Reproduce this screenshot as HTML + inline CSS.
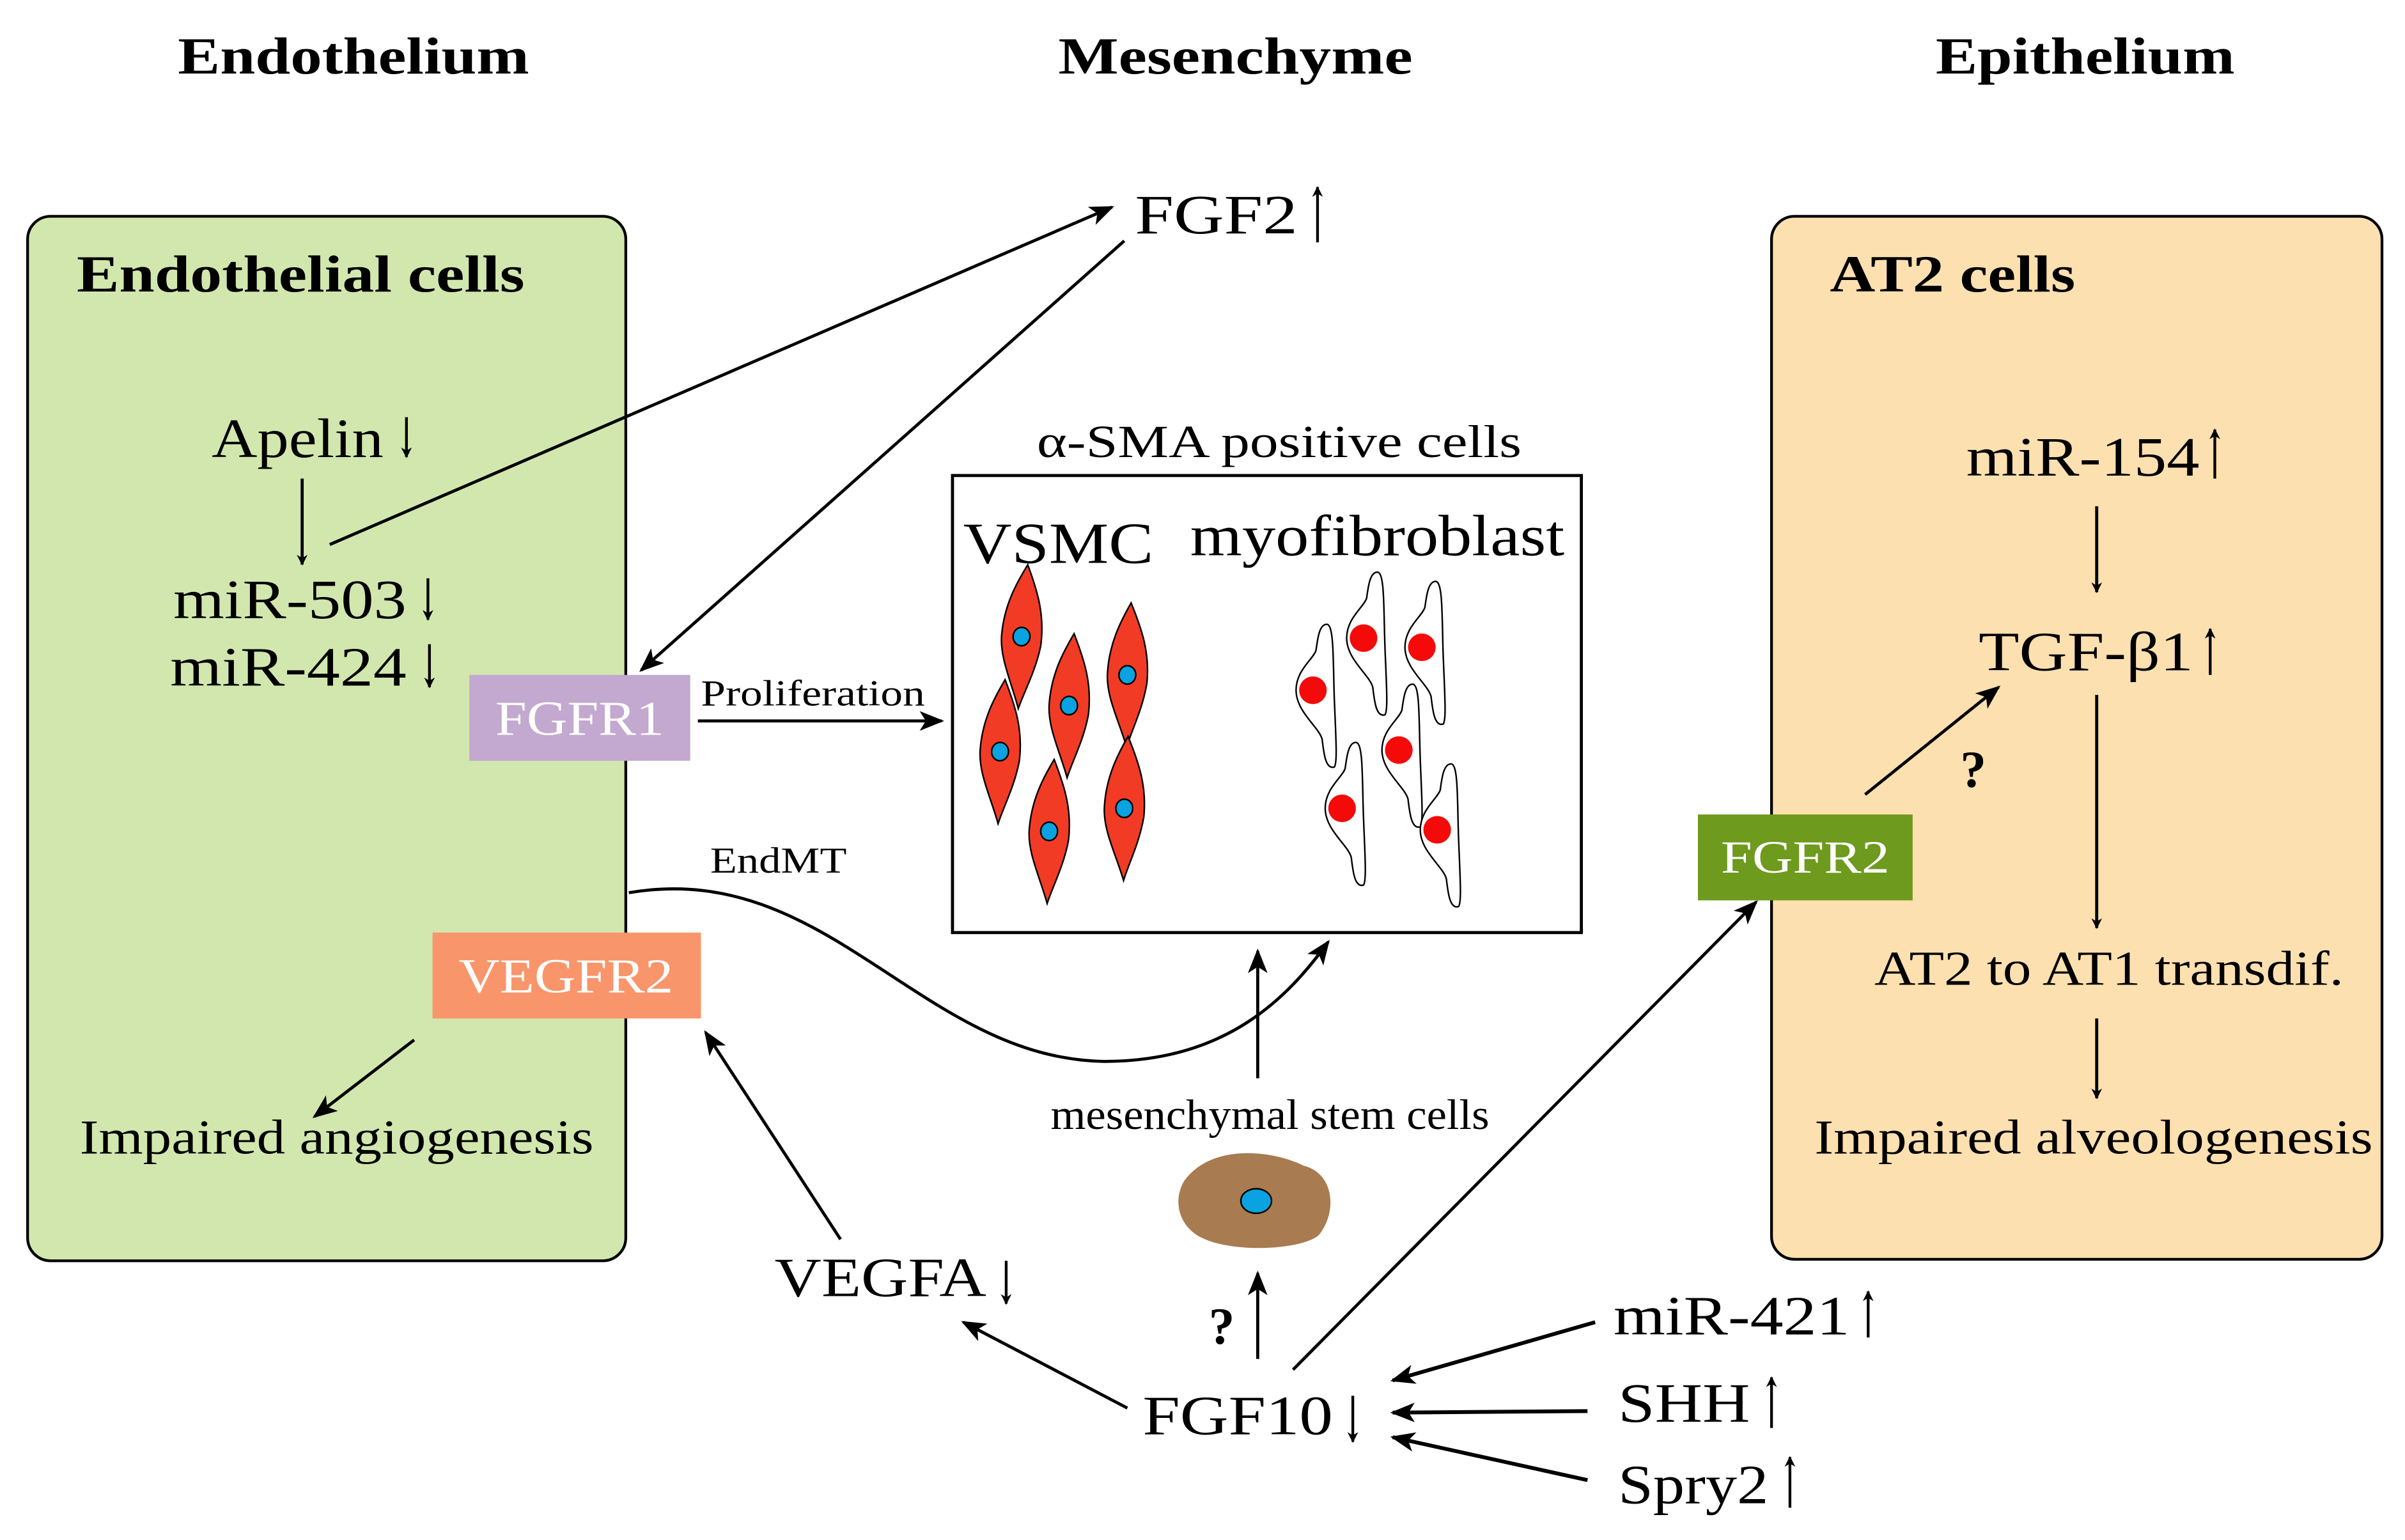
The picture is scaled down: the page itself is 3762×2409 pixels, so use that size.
<!DOCTYPE html>
<html><head><meta charset="utf-8"><style>html,body{margin:0;padding:0;background:#fff}svg{display:block}svg text{font-family:"Liberation Serif",serif}</style></head>
<body>
<svg width="3762" height="2409" viewBox="0 0 1568 1004" xmlns="http://www.w3.org/2000/svg">
<defs>
<marker id="a" viewBox="0 0 10 10" refX="9" refY="5" markerWidth="7" markerHeight="7" orient="auto-start-reverse" markerUnits="userSpaceOnUse"><path d="M0,0 L10,5 L0,10 L3,5 z" fill="#000"/></marker>
<marker id="b" viewBox="0 0 10 10" refX="9" refY="5" markerWidth="16" markerHeight="16" orient="auto" markerUnits="userSpaceOnUse"><path d="M0,1 L10,5 L0,9 L2.5,5 z" fill="#000"/></marker>
<g id="sp"><path d="M0,-47 C8,-30 14,-15 13,5 C11,22 5,35 2,47 C-4,30 -13,15 -13,0 C-13,-20 -6,-35 0,-47 z" fill="#f23b25" stroke="#000" stroke-width="1"/><ellipse cx="0" cy="0" rx="5.5" ry="6" fill="#0aa2e0" stroke="#000" stroke-width="1"/></g>
<g id="mf"><path d="M5,-45 C10,-45 9,-20 10,5 C11,30 12,45 10,48 C4,50 3,38 2,30 C0,22 -15,12 -15,-2 C-15,-15 -4,-22 -2,-28 C-1,-35 0,-45 5,-45 z" fill="#fff" stroke="#000" stroke-width="1"/><circle cx="-4" cy="-2" r="9" fill="#f50a0a"/></g>
</defs>
<rect x="18" y="141" width="390" height="681" rx="15" fill="#d2e7ae" stroke="#000" stroke-width="1.8"/>
<rect x="1155" y="141" width="398" height="680" rx="15" fill="#fde0b0" stroke="#000" stroke-width="1.8"/>
<rect x="621" y="310" width="410" height="298" fill="#fff" stroke="#000" stroke-width="2"/>
<g font-weight="bold" font-size="34">
<text x="116" y="48" textLength="229" lengthAdjust="spacingAndGlyphs">Endothelium</text>
<text x="690" y="48" textLength="231" lengthAdjust="spacingAndGlyphs">Mesenchyme</text>
<text x="1262" y="48" textLength="195" lengthAdjust="spacingAndGlyphs">Epithelium</text>
<text x="50" y="190" textLength="292" lengthAdjust="spacingAndGlyphs">Endothelial cells</text>
<text x="1193" y="190" textLength="160" lengthAdjust="spacingAndGlyphs">AT2 cells</text>
</g>
<g font-size="36">
<text x="138" y="298" textLength="112" lengthAdjust="spacingAndGlyphs">Apelin</text>
<text x="113" y="403" textLength="152" lengthAdjust="spacingAndGlyphs">miR-503</text>
<text x="111" y="447" textLength="154" lengthAdjust="spacingAndGlyphs">miR-424</text>
<text x="740" y="152" textLength="106" lengthAdjust="spacingAndGlyphs">FGF2</text>
<text x="505" y="845" textLength="138" lengthAdjust="spacingAndGlyphs">VEGFA</text>
<text x="745" y="935" textLength="124" lengthAdjust="spacingAndGlyphs">FGF10</text>
<text x="1052" y="870" textLength="154" lengthAdjust="spacingAndGlyphs">miR-421</text>
<text x="1055" y="927" textLength="86" lengthAdjust="spacingAndGlyphs">SHH</text>
<text x="1055" y="980" textLength="98" lengthAdjust="spacingAndGlyphs">Spry2</text>
<text x="1282" y="310" textLength="152" lengthAdjust="spacingAndGlyphs">miR-154</text>
<text x="1290" y="437" textLength="140" lengthAdjust="spacingAndGlyphs">TGF-β1</text>
</g>
<g stroke="#000" stroke-width="1.8">
<line x1="265" y1="272" x2="265" y2="298" marker-end="url(#a)"/>
<line x1="279" y1="377" x2="279" y2="404" marker-end="url(#a)"/>
<line x1="280" y1="420" x2="280" y2="448" marker-end="url(#a)"/>
<line x1="859" y1="158" x2="859" y2="122" marker-end="url(#a)"/>
<line x1="656" y1="822" x2="656" y2="850" marker-end="url(#a)"/>
<line x1="882" y1="910" x2="882" y2="940" marker-end="url(#a)"/>
<line x1="1218" y1="872" x2="1218" y2="842" marker-end="url(#a)"/>
<line x1="1155" y1="931" x2="1155" y2="898" marker-end="url(#a)"/>
<line x1="1167" y1="983" x2="1167" y2="950" marker-end="url(#a)"/>
<line x1="1444" y1="312" x2="1444" y2="280" marker-end="url(#a)"/>
<line x1="1441" y1="440" x2="1441" y2="410" marker-end="url(#a)"/>
</g>
<g font-size="32">
<text x="52" y="752" textLength="335" lengthAdjust="spacingAndGlyphs">Impaired angiogenesis</text>
<text x="1183" y="752" textLength="364" lengthAdjust="spacingAndGlyphs">Impaired alveologenesis</text>
<text x="1222" y="642" textLength="306" lengthAdjust="spacingAndGlyphs">AT2 to AT1 transdif.</text>
<text x="676" y="298" font-size="30" textLength="316" lengthAdjust="spacingAndGlyphs">α-SMA positive cells</text>
<text x="685" y="736" font-size="28" textLength="286" lengthAdjust="spacingAndGlyphs">mesenchymal stem cells</text>
<text x="628" y="367" font-size="38" textLength="124" lengthAdjust="spacingAndGlyphs">VSMC</text>
<text x="776" y="362" font-size="38" textLength="244" lengthAdjust="spacingAndGlyphs">myofibroblast</text>
<text x="457" y="460" font-size="24" textLength="146" lengthAdjust="spacingAndGlyphs">Proliferation</text>
<text x="463" y="569" font-size="24" textLength="89" lengthAdjust="spacingAndGlyphs">EndMT</text>
</g>
<g font-weight="bold" font-size="34">
<text x="788" y="876">?</text>
<text x="1278" y="513">?</text>
</g>
<rect x="306" y="440" width="144" height="56" fill="#c3a8d0"/>
<text x="378" y="479" fill="#fff" font-size="32" text-anchor="middle" textLength="110" lengthAdjust="spacingAndGlyphs">FGFR1</text>
<rect x="282" y="608" width="175" height="56" fill="#f9956a"/>
<text x="369" y="647" fill="#fff" font-size="32" text-anchor="middle" textLength="140" lengthAdjust="spacingAndGlyphs">VEGFR2</text>
<rect x="1107" y="531" width="140" height="56" fill="#6e9a1e"/>
<text x="1177" y="569" fill="#fff" font-size="30" text-anchor="middle" textLength="110" lengthAdjust="spacingAndGlyphs">FGFR2</text>
<use href="#sp" transform="translate(666,415) rotate(5)"/>
<use href="#sp" transform="translate(735,440) rotate(3)"/>
<use href="#sp" transform="translate(697,460) rotate(4)"/>
<use href="#sp" transform="translate(652,490) rotate(4)"/>
<use href="#sp" transform="translate(684,542) rotate(4)"/>
<use href="#sp" transform="translate(733,527) rotate(3)"/>
<use href="#mf" transform="translate(860,452)"/>
<use href="#mf" transform="translate(893,418)"/>
<use href="#mf" transform="translate(931,424)"/>
<use href="#mf" transform="translate(916,491)"/>
<use href="#mf" transform="translate(879,529)"/>
<use href="#mf" transform="translate(941,543)"/>
<path d="M772,770 C790,745 830,750 850,760 C870,765 872,790 860,805 C850,815 800,818 780,805 C768,797 765,782 772,770 z" fill="#a87b50"/>
<ellipse cx="819" cy="783" rx="10" ry="8" fill="#0aa2e0" stroke="#000" stroke-width="1"/>
<g stroke="#000" stroke-width="2" fill="none">
<line x1="197" y1="312" x2="197" y2="368" marker-end="url(#a)"/>
<line x1="215" y1="355" x2="725" y2="135" marker-end="url(#b)"/>
<line x1="733" y1="157" x2="418" y2="437" marker-end="url(#b)"/>
<line x1="455" y1="470" x2="614" y2="470" marker-end="url(#b)"/>
<path d="M410,582 C540,560 600,690 720,692 C800,692 840,650 866,614" marker-end="url(#b)"/>
<line x1="820" y1="703" x2="820" y2="620" marker-end="url(#b)"/>
<line x1="270" y1="678" x2="205" y2="728" marker-end="url(#b)"/>
<line x1="820" y1="886" x2="820" y2="830" marker-end="url(#b)"/>
<line x1="548" y1="808" x2="460" y2="673" marker-end="url(#b)"/>
<line x1="735" y1="918" x2="628" y2="862" marker-end="url(#b)"/>
<line x1="843" y1="893" x2="1145" y2="588" marker-end="url(#b)"/>
<line x1="1040" y1="862" x2="908" y2="900" marker-end="url(#b)" stroke-width="2.5"/>
<line x1="1035" y1="920" x2="908" y2="921" marker-end="url(#b)" stroke-width="2.5"/>
<line x1="1035" y1="965" x2="908" y2="937" marker-end="url(#b)" stroke-width="2.5"/>
<line x1="1367" y1="330" x2="1367" y2="386" marker-end="url(#a)"/>
<line x1="1367" y1="453" x2="1367" y2="605" marker-end="url(#a)"/>
<line x1="1367" y1="664" x2="1367" y2="716" marker-end="url(#a)"/>
<line x1="1216" y1="518" x2="1303" y2="448" marker-end="url(#b)"/>
</g>
</svg>
</body></html>
